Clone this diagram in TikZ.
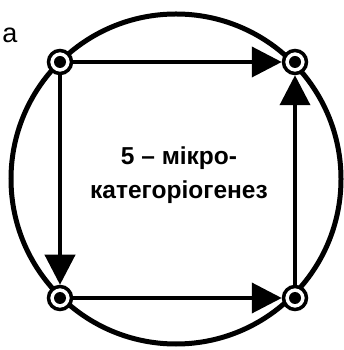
\documentclass[tikz,border=0pt]{standalone}
\usepackage{fontspec}
\setmainfont{Liberation Sans}
\usetikzlibrary{arrows.meta}
\tikzset{
  vertex/.style={circle, draw, line width=3.5pt, fill=white, minimum size=23pt, inner sep=0pt,
    path picture={\fill[black] (path picture bounding box.center) circle (6pt);}},
  link/.style={line width=4pt, -{Triangle[length=30pt, width=30pt]}}
}
\begin{document}
\begin{tikzpicture}[x=1pt, y=1pt]
  \useasboundingbox (0,0) rectangle (343,350);
  \draw[line width=5pt] (176,171) circle (165);
  \node[font=\fontsize{27}{30}\selectfont] (tag) at (10,315) {а};
  \node[align=center, font=\bfseries\fontsize{24.5}{34}\selectfont] (title) at (179,175) {5 – мікро-\\категоріогенез};
  \node[vertex] (tl) at (60,288) {};
  \node[vertex] (tr) at (295,288) {};
  \node[vertex] (bl) at (60,52) {};
  \node[vertex] (br) at (295,52) {};
  \draw[link] (tl) -- (tr);
  \draw[link] (br) -- (tr);
  \draw[link] (tl) -- (bl);
  \draw[link] (bl) -- (br);
\end{tikzpicture}
\end{document}
